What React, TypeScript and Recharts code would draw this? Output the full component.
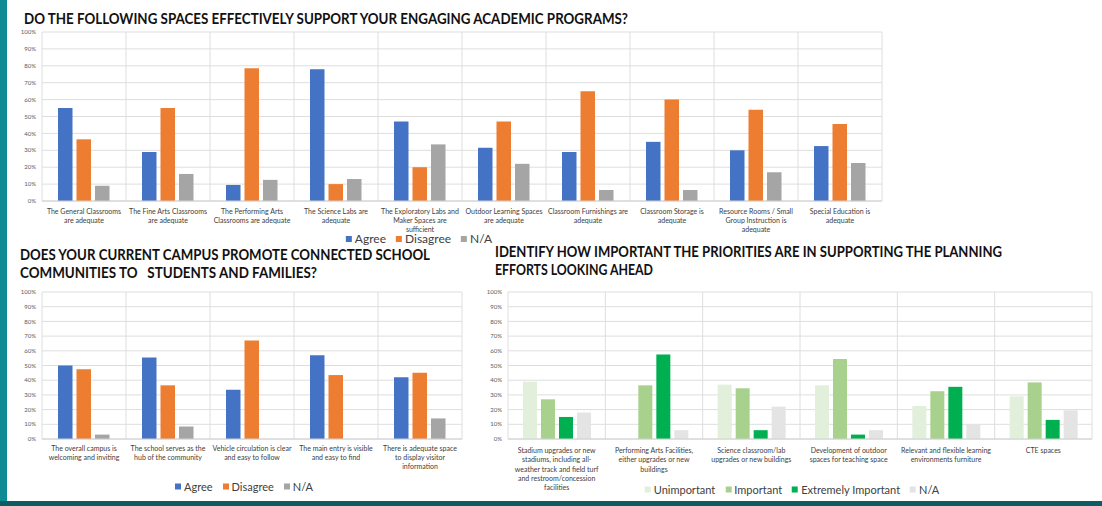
import React from "react";
import { BarChart, Bar, XAxis, YAxis, CartesianGrid } from "recharts";

const FONT = "Lato, 'Open Sans', sans-serif";

// --- academic spaces ---
const academicSpaces = [
  "The General Classrooms\nare adequate",
  "The Fine Arts Classrooms\nare adequate",
  "The Performing Arts\nClassrooms are adequate",
  "The Science Labs are\nadequate",
  "The Exploratory Labs and\nMaker Spaces are\nsufficient",
  "Outdoor Learning Spaces\nare adequate",
  "Classroom Furnishings are\nadequate",
  "Classroom Storage is\nadequate",
  "Resource Rooms / Small\nGroup Instruction is\nadequate",
  "Special Education is\nadequate",
];
const academicAgree = [55, 29, 9.5, 78, 47, 31.5, 29, 35, 30, 32.5];
const academicDisagree = [36.5, 55, 78.5, 10, 20, 47, 65, 60, 54, 45.5];
const academicNA = [9, 16, 12.5, 13, 33.5, 22, 6.5, 6.5, 17, 22.5];

// --- connected communities ---
const communityItems = [
  "The overall campus is\nwelcoming and inviting",
  "The school serves as the\nhub of the community",
  "Vehicle circulation is clear\nand easy to follow",
  "The main entry is visible\nand easy to find",
  "There is adequate space\nto display visitor\ninformation",
];
const communityAgree = [50, 55.5, 33.5, 57, 42];
const communityDisagree = [47.5, 36.5, 67, 43.5, 45];
const communityNA = [3, 8.5, 0, 0, 14];

// --- planning priorities ---
const priorityItems = [
  "Stadium upgrades or new\nstadiums, including all-\nweather track and field turf\nand restroom/concession\nfacilities",
  "Performing Arts Facilities,\neither upgrades or new\nbuildings",
  "Science classroom/lab\nupgrades or new buildings",
  "Development of outdoor\nspaces for teaching space",
  "Relevant and flexible learning\nenvironments furniture",
  "CTE spaces",
];
const priorityUnimportant = [39, 0, 37, 36.5, 22.5, 29];
const priorityImportant = [27, 36.5, 34.5, 54.5, 32.5, 38.5];
const priorityExtreme = [15, 57.5, 6, 3, 35.5, 13];
const priorityNA = [18, 6, 22, 6, 10, 19.5];

const pctTicks = [0, 10, 20, 30, 40, 50, 60, 70, 80, 90, 100];

const agreeLegend = [
  { label: "Agree", color: "#4472c4" },
  { label: "Disagree", color: "#ed7d31" },
  { label: "N/A", color: "#a5a5a5" },
];
const priorityLegend = [
  { label: "Unimportant", color: "#e2efda" },
  { label: "Important", color: "#a9d18e" },
  { label: "Extremely Important", color: "#00b050" },
  { label: "N/A", color: "#e4e4e4" },
];

const academicRows = academicSpaces.map((name, i) => ({
  name, agree: academicAgree[i], disagree: academicDisagree[i], na: academicNA[i],
}));
const communityRows = communityItems.map((name, i) => ({
  name, agree: communityAgree[i], disagree: communityDisagree[i], na: communityNA[i],
}));
const priorityRows = priorityItems.map((name, i) => ({
  name,
  unimportant: priorityUnimportant[i],
  important: priorityImportant[i],
  extreme: priorityExtreme[i],
  na: priorityNA[i],
}));

// category dividers sit on band edges, not on tick centres
const boundaryLines = (n: number) => ({ offset }: any) =>
  Array.from({ length: n + 1 }, (_, i) => offset.left + (i * offset.width) / n);

const WrapTick = (props: any) => {
  const { x, y, payload, dy } = props;
  const lines = String(payload.value).split("\n");
  return (
    <g transform={`translate(${x},${y})`}>
      {lines.map((l, i) => (
        <text key={i} x={0} y={dy + i * 9.3} textAnchor="middle" fontSize={7}
              fontFamily={FONT} fill="#404040">
          {l}
        </text>
      ))}
    </g>
  );
};

const yAxisProps = {
  domain: [0, 100] as [number, number],
  ticks: pctTicks,
  interval: 0 as const,
  tickFormatter: (v: number) => `${v}%`,
  axisLine: false,
  tickLine: false,
  width: 30,
  tickSize: 0,
  tickMargin: 6,
  tick: { fontSize: 6, fill: "#595959", fontFamily: FONT },
};

function LegendRow({ items, cx, cy, size = 11 }: { items: { label: string; color: string }[]; cx: number; cy: number; size?: number }) {
  return (
    <div style={{
      position: "absolute", left: cx, top: cy, transform: "translate(-50%, -50%)",
      display: "flex", alignItems: "center", gap: 10, whiteSpace: "nowrap",
      fontFamily: FONT, fontSize: size, lineHeight: 1, color: "#404040",
    }}>
      {items.map((it) => (
        <span key={it.label} style={{ display: "flex", alignItems: "center", gap: 3 }}>
          <span style={{ width: 6, height: 6, background: it.color, display: "inline-block" }} />
          {it.label}
        </span>
      ))}
    </div>
  );
}

export default function App() {
  return (
    <div style={{ position: "absolute", left: 0, top: 0, width: 1102, height: 506,
                  background: "#fff", overflow: "hidden", fontFamily: FONT }}>
      <div style={{ position: "absolute", left: 0, top: 0, width: 7, height: 506, background: "#0f8b94" }} />
      <div style={{ position: "absolute", left: 0, top: 501, width: 1102, height: 5, background: "#0d5c63" }} />

      {/* academic spaces */}
      <div style={{ position: "absolute", left: 0, top: 0 }}>
        <BarChart width={900} height={250} data={academicRows}
                  margin={{ top: 32, right: 18, bottom: 9, left: 12 }} barSize={14.5} barGap={4}>
          <CartesianGrid stroke="#dedede" verticalCoordinatesGenerator={boundaryLines(10)} />
          <XAxis dataKey="name" interval={0} height={40} axisLine={{ stroke: "#d0d0d0" }}
                 tickLine={false} tickSize={0} tickMargin={0}
                 tick={(p: any) => <WrapTick {...p} dy={12.5} />} />
          <YAxis {...yAxisProps} />
          <Bar dataKey="agree" fill="#4472c4" isAnimationActive={false} />
          <Bar dataKey="disagree" fill="#ed7d31" isAnimationActive={false} />
          <Bar dataKey="na" fill="#a5a5a5" isAnimationActive={false} />
        </BarChart>
      </div>
      <LegendRow items={agreeLegend} cx={419} cy={239} size={12} />

      {/* connected communities */}
      <div style={{ position: "absolute", left: 0, top: 240 }}>
        <BarChart width={480} height={260} data={communityRows}
                  margin={{ top: 52, right: 18, bottom: 21, left: 12 }} barSize={14.5} barGap={4}>
          <CartesianGrid stroke="#dedede" verticalCoordinatesGenerator={boundaryLines(5)} />
          <XAxis dataKey="name" interval={0} height={40} axisLine={{ stroke: "#d0d0d0" }}
                 tickLine={false} tickSize={0} tickMargin={0}
                 tick={(p: any) => <WrapTick {...p} dy={11.5} />} />
          <YAxis {...yAxisProps} />
          <Bar dataKey="agree" fill="#4472c4" isAnimationActive={false} />
          <Bar dataKey="disagree" fill="#ed7d31" isAnimationActive={false} />
          <Bar dataKey="na" fill="#a5a5a5" isAnimationActive={false} />
        </BarChart>
      </div>
      <LegendRow items={agreeLegend} cx={244} cy={486} />

      {/* planning priorities */}
      <div style={{ position: "absolute", left: 460, top: 240 }}>
        <BarChart width={642} height={260} data={priorityRows}
                  margin={{ top: 52, right: 10, bottom: 11, left: 18 }} barSize={14} barGap={4}>
          <CartesianGrid stroke="#dedede" verticalCoordinatesGenerator={boundaryLines(6)} />
          <XAxis dataKey="name" interval={0} height={50} axisLine={{ stroke: "#d0d0d0" }}
                 tickLine={false} tickSize={0} tickMargin={0}
                 tick={(p: any) => <WrapTick {...p} dy={14} />} />
          <YAxis {...yAxisProps} />
          <Bar dataKey="unimportant" fill="#e2efda" isAnimationActive={false} />
          <Bar dataKey="important" fill="#a9d18e" isAnimationActive={false} />
          <Bar dataKey="extreme" fill="#00b050" isAnimationActive={false} />
          <Bar dataKey="na" fill="#e4e4e4" isAnimationActive={false} />
        </BarChart>
      </div>
      <LegendRow items={priorityLegend} cx={792} cy={489} />

      {/* titles */}
      <svg width={1102} height={506} style={{ position: "absolute", left: 0, top: 0, pointerEvents: "none" }}>
        <g fontFamily={FONT} fontWeight={700} fontSize={14.5} fill="#111">
          <text x={24} y={24} textLength={604} lengthAdjust="spacingAndGlyphs">
            DO THE FOLLOWING SPACES EFFECTIVELY SUPPORT YOUR ENGAGING ACADEMIC PROGRAMS?
          </text>
          <text x={20} y={260} textLength={410} lengthAdjust="spacingAndGlyphs">
            DOES YOUR CURRENT CAMPUS PROMOTE CONNECTED SCHOOL
          </text>
          <text x={20} y={278} textLength={297} lengthAdjust="spacingAndGlyphs">
            {"COMMUNITIES TO\u00a0\u00a0 STUDENTS AND FAMILIES?"}
          </text>
          <text x={495} y={257} textLength={507} lengthAdjust="spacingAndGlyphs">
            IDENTIFY HOW IMPORTANT THE PRIORITIES ARE IN SUPPORTING THE PLANNING
          </text>
          <text x={495} y={275} textLength={158} lengthAdjust="spacingAndGlyphs">
            EFFORTS LOOKING AHEAD
          </text>
        </g>
      </svg>
    </div>
  );
}
